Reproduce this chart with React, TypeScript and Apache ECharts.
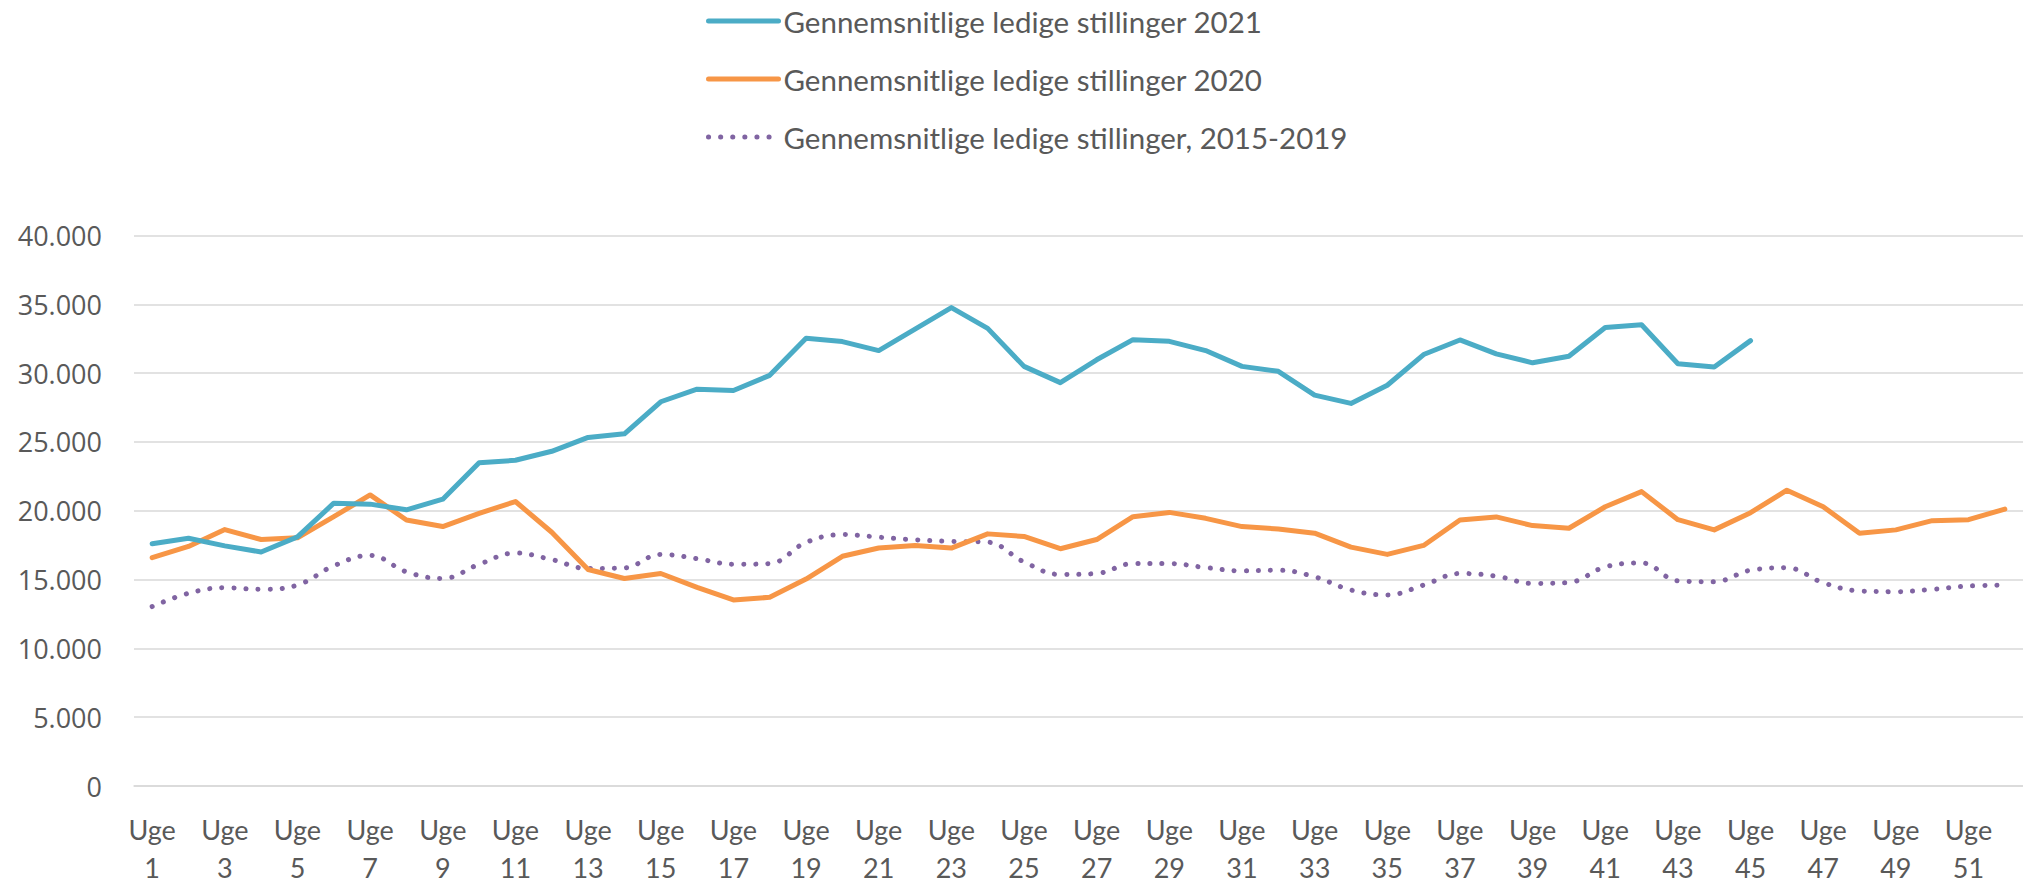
import React, { useEffect, useRef } from "react";
import * as echarts from "echarts";

const weeks: string[] = Array.from({ length: 52 }, (_, i) => `Uge ${i + 1}`);

const yTicks = { min: 0, max: 40000, interval: 5000 };

const names = [
  "Gennemsnitlige ledige stillinger 2021",
  "Gennemsnitlige ledige stillinger 2020",
  "Gennemsnitlige ledige stillinger, 2015-2019",
];

const values2021: number[] = [
  17600, 18000, 17450, 17000, 18100, 20550, 20480, 20070, 20840, 23480,
  23670, 24320, 25330, 25590, 27920, 28830, 28740, 29840, 32530, 32290,
  31640, 33200, 34760, 33250, 30490, 29310, 30970, 32430, 32310, 31640,
  30490, 30130, 28400, 27800, 29120, 31350, 32410, 31400, 30750, 31230,
  33320, 33510, 30680, 30440, 32360,
];

const values2020: number[] = [
  16590, 17410, 18630, 17910, 18030, 19570, 21150, 19330, 18850, 19810,
  20670, 18440, 15730, 15080, 15440, 14430, 13520, 13710, 15040, 16690,
  17290, 17480, 17290, 18320, 18130, 17240, 17910, 19570, 19880, 19450,
  18850, 18680, 18370, 17360, 16830, 17480, 19330, 19550, 18920, 18730,
  20290, 21390, 19350, 18610, 19860, 21490, 20290, 18370, 18610, 19280,
  19350, 20120,
];

const values2015_2019: number[] = [
  13040, 14000, 14410, 14290, 14600, 16000, 16760, 15560, 15080, 16110,
  16930, 16450, 15800, 15850, 16830, 16520, 16110, 16160, 17700, 18270,
  18080, 17890, 17770, 17720, 16280, 15370, 15440, 16160, 16160, 15870,
  15630, 15680, 15200, 14240, 13880, 14600, 15440, 15250, 14720, 14790,
  15920, 16210, 14910, 14840, 15680, 15850, 14770, 14170, 14120, 14290,
  14530, 14600,
];

const colors = ["#4BACC6", "#F79646", "#8064A2"];

function fmt(v: number): string {
  return String(v).replace(/\B(?=(\d{3})+(?!\d))/g, ".");
}

export default function App() {
  const ref = useRef<HTMLDivElement>(null);
  useEffect(() => {
    if (!ref.current) return;
    const chart = echarts.init(ref.current, null, { renderer: "svg" });
    chart.setOption({
      animation: false,
      backgroundColor: "#ffffff",
      legend: {
        orient: "vertical",
        left: 701,
        top: 1,
        itemWidth: 70,
        itemHeight: 14,
        itemGap: 28,
        data: names,
        itemStyle: { opacity: 0 },
        lineStyle: { width: 5, cap: "round" },
        textStyle: {
          fontFamily: "Lato",
          fontSize: 29.5,
          color: "#595959",
          lineHeight: 30,
        },
      },
      grid: { left: 134, right: 0, top: 235.5, bottom: 94.7, containLabel: false },
      xAxis: {
        type: "category",
        data: weeks,
        boundaryGap: true,
        axisLine: { show: true, lineStyle: { color: "#D9D9D9", width: 1.5 } },
        axisTick: { show: false },
        splitLine: { show: false },
        axisLabel: {
          interval: 1,
          margin: 24,
          fontFamily: "Lato",
          fontSize: 27,
          lineHeight: 38,
          color: "#595959",
          formatter: (v: string) => v.replace(" ", "\n"),
        },
      },
      yAxis: {
        type: "value",
        min: yTicks.min,
        max: yTicks.max,
        interval: yTicks.interval,
        axisLine: { show: false },
        axisTick: { show: false },
        splitLine: { show: true, lineStyle: { color: "#D9D9D9", width: 1.5 } },
        axisLabel: {
          margin: 32,
          fontFamily: "Open Sans",
          fontSize: 27,
          color: "#595959",
          formatter: (v: number) => fmt(v),
        },
      },
      series: [
        {
          name: names[0],
          type: "line",
          data: values2021,
          symbol: "none",
          lineStyle: { color: colors[0], width: 5, cap: "round", join: "round" },
          itemStyle: { color: colors[0] },
          z: 3,
        },
        {
          name: names[1],
          type: "line",
          data: values2020,
          symbol: "none",
          lineStyle: { color: colors[1], width: 5, cap: "round", join: "round" },
          itemStyle: { color: colors[1] },
          z: 2,
        },
        {
          name: names[2],
          type: "line",
          data: values2015_2019,
          symbol: "none",
          smooth: 0.4,
          lineStyle: { color: colors[2], width: 5, type: [0.1, 12], cap: "round" },
          itemStyle: { color: colors[2] },
          z: 1,
        },
      ],
    });
    return () => chart.dispose();
  }, []);
  return (
    <div
      ref={ref}
      style={{ position: "absolute", left: 0, top: 0, width: 2023, height: 886 }}
    />
  );
}
